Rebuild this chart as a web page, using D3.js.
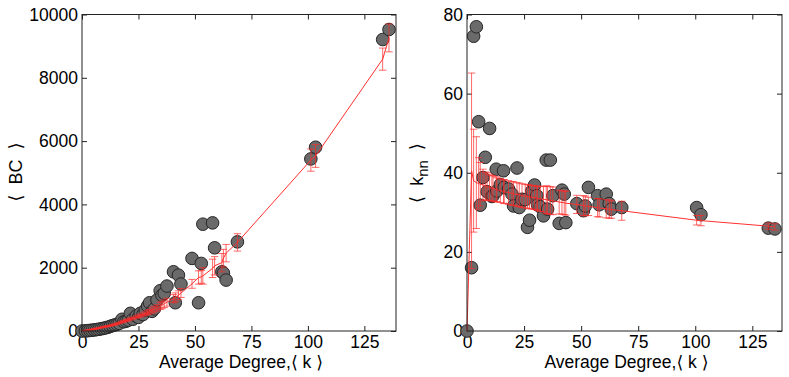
<script src="https://cdnjs.cloudflare.com/ajax/libs/d3/7.8.5/d3.min.js"></script>
<body style="margin:0;background:#fff">
<script>
  // left panel: betweenness centrality vs average degree
  const bcK = [0, 1.5, 2.5, 3.5, 4.5, 5.5, 6.5, 7.5, 8.5, 9.5, 10.5, 11.5, 12.5, 13.5, 14.5, 15.5, 16.5, 17.7, 18.5, 19.5,
    20.5, 21.4, 22.5, 24, 25, 25.8, 27, 28, 29, 29.9, 31, 32, 33.2, 34.6, 35.4, 36.4, 37.6, 40.5, 41.3, 42.7,
    43.8, 48.7, 51.6, 52.8, 53.5, 57.8, 58.7, 61.9, 62.6, 63.8, 68.8, 101.3, 103.4, 133.1, 135.9];
  const bcVal = [0, 5, 10, 18, 25, 35, 45, 55, 70, 85, 100, 120, 145, 170, 190, 215, 240, 370, 290, 310,
    340, 558, 370, 473, 430, 558, 520, 662, 789, 893, 620, 700, 978, 1272, 1130, 1190, 1420, 1871, 893, 1766,
    1483, 2293, 893, 2135, 3375, 3416, 2628, 1871, 1830, 1609, 2817, 5437, 5806, 9210, 9526];
  const bcFit = [0, 15, 25, 35, 50, 65, 80, 95, 110, 125, 140, 155, 170, 190, 210, 230, 255, 285, 305, 330,
    355, 380, 405, 440, 465, 490, 520, 550, 580, 610, 650, 690, 730, 790, 820, 860, 910, 1020, 1065, 1130,
    1200, 1490, 1690, 1710, 1740, 1980, 2060, 2160, 2300, 2460, 2800, 5400, 5530, 8590, 9260];
  const bcErr = [0, 4, 5, 6, 7, 8, 9, 10, 11, 12, 13, 14, 15, 16, 18, 20, 22, 24, 26, 28,
    30, 32, 35, 38, 40, 45, 50, 55, 60, 70, 80, 90, 100, 110, 115, 120, 125, 130, 140, 140,
    140, 140, 210, 200, 260, 290, 290, 290, 280, 275, 275, 350, 360, 350, 440];

  // right panel: average nearest-neighbour degree vs average degree
  const knnK = [0, 2, 2.9, 4.1, 5.1, 5.8, 7, 8, 8.8, 9.9, 10.9, 11.4, 12.8, 13.1, 14.6, 16, 16.3, 18.2, 19.7, 20.4,
    21.9, 22.9, 24.1, 25.5, 26.5, 27.4, 28.4, 29.6, 30.6, 30.9, 32.1, 33.5, 34.7, 35.3, 36.5, 37.6, 40.4, 41.6, 42.6, 43.3,
    48.1, 51, 51.8, 53.2, 57.2, 57.9, 61, 62.3, 63.2, 67.8, 100.6, 102.5, 132, 134.9];
  const knnVal = [0, 16, 74.5, 76.9, 52.9, 31.8, 38.8, 43.9, 35.2, 51.2, 34.0, 34.2, 40.9, 35.4, 37, 40.5, 36.3, 35.9, 34.6, 31.6,
    41.2, 31.2, 33.3, 33.2, 26.2, 28, 35.4, 36.9, 34.2, 31.9, 31.4, 29.1, 43.2, 30.8, 43.2, 34.2, 27.2, 35.6, 34.6, 27.4,
    32.2, 30.4, 31.6, 36.3, 34.2, 31.9, 34.6, 32.2, 30.8, 31.2, 31.2, 29.4, 26, 25.8];
  const knnFit = [0, 40.5, 38, 37.5, 37.3, 37.1, 36.9, 36.7, 36.5, 36.3, 36.1, 36, 35.8, 35.7, 35.5, 35.3, 35.2, 35, 34.8, 34.7,
    34.5, 34.4, 34.2, 34.1, 34, 33.9, 33.8, 33.7, 33.6, 33.5, 33.4, 33.3, 33.2, 33.1, 33, 32.9, 32.6, 32.5, 32.4, 32.3,
    32, 31.7, 31.6, 31.5, 31.2, 31.1, 30.9, 30.8, 30.7, 30.4, 28, 27.9, 26.5, 26.3];
  const knnErr = [0, 24.7, 13, 11.6, 6.5, 5.5, 4, 3.5, 3.5, 3.3, 3.2, 3.2, 3.2, 3, 3, 3, 3, 3, 3, 3,
    3, 3, 3, 3, 3, 3, 3, 3, 3, 3, 3.2, 3.2, 3.5, 3.5, 3.5, 3.5, 3, 3, 3, 3,
    2.3, 2.5, 2.5, 2.3, 2.3, 2.3, 2.3, 2.3, 2.2, 2.4, 1.2, 1.3, 0.8, 0.8];

  const xTicks = [0, 25, 50, 75, 100, 125];
  const bcTicks = [0, 2000, 4000, 6000, 8000, 10000];
  const knnTicks = [0, 20, 40, 60, 80];

  const font = "'Liberation Sans', Arial, 'DejaVu Sans', sans-serif";

  const svg = d3.select("body").append("svg")
    .attr("width", 789)
    .attr("height", 377)
    .style("display", "block");

  svg.append("rect").attr("width", 789).attr("height", 377).attr("fill", "white");

  function panel(o) {
    const x = d3.scaleLinear().domain([0, o.xMax]).range([o.left, o.right]);
    const y = d3.scaleLinear().domain([0, o.yMax]).range([o.bottom, o.top]);
    const g = svg.append("g");

    // ticks, pointing inwards on every side
    const bx = g.append("g").attr("transform", `translate(0,${o.bottom})`)
      .call(d3.axisBottom(x).tickValues(xTicks).tickSizeInner(-5).tickSizeOuter(0).tickPadding(5));
    const tx = g.append("g").attr("transform", `translate(0,${o.top})`)
      .call(d3.axisTop(x).tickValues(xTicks).tickSizeInner(-5).tickSizeOuter(0).tickFormat(""));
    const ly = g.append("g").attr("transform", `translate(${o.left},0)`)
      .call(d3.axisLeft(y).tickValues(o.yTicks).tickSizeInner(-5).tickSizeOuter(0).tickPadding(4).tickFormat(d3.format("d")));
    const ry = g.append("g").attr("transform", `translate(${o.right},0)`)
      .call(d3.axisRight(y).tickValues(o.yTicks).tickSizeInner(-5).tickSizeOuter(0).tickFormat(""));
    [bx, tx, ly, ry].forEach(a => {
      a.select(".domain").remove();
      a.selectAll("line").attr("stroke", "#222");
      a.selectAll("text").attr("font-family", font).attr("font-size", 17.5).attr("fill", "#000");
    });

    // grey markers
    g.append("g").selectAll("circle")
      .data(o.k)
      .join("circle")
      .attr("cx", d => x(d))
      .attr("cy", (d, i) => y(o.val[i]))
      .attr("r", 6.3)
      .attr("fill", "#6a6a6a")
      .attr("stroke", "#262626")
      .attr("stroke-width", 1);

    // red model line with error bars
    const fit = o.k.map((d, i) => [d, o.fit[i], o.err[i]]);
    g.append("path")
      .attr("d", d3.line().x(d => x(d[0])).y(d => y(d[1]))(fit))
      .attr("fill", "none")
      .attr("stroke", "#ff3030")
      .attr("stroke-width", 1);

    const eb = g.append("g").attr("stroke", "#ff2a2a").attr("stroke-width", 1).attr("stroke-opacity", 0.7);
    fit.filter(d => d[2] > 0).forEach(d => {
      const cx = x(d[0]), y0 = y(d[1] - d[2]), y1 = y(d[1] + d[2]);
      eb.append("line").attr("x1", cx).attr("x2", cx).attr("y1", y0).attr("y2", y1);
      eb.append("line").attr("x1", cx - 3.7).attr("x2", cx + 3.7).attr("y1", y0).attr("y2", y0);
      eb.append("line").attr("x1", cx - 3.7).attr("x2", cx + 3.7).attr("y1", y1).attr("y2", y1);
    });

    // frame
    g.append("rect")
      .attr("x", o.left).attr("y", o.top)
      .attr("width", o.right - o.left).attr("height", o.bottom - o.top)
      .attr("fill", "none").attr("stroke", "#222").attr("stroke-width", 1);

    // x title
    g.append("text")
      .attr("x", (o.left + o.right) / 2 + 2)
      .attr("y", 368)
      .attr("text-anchor", "middle")
      .attr("font-family", font)
      .attr("font-size", 17.5)
      .text("Average Degree,\u27E8 k \u27E9");

    return g;
  }

  panel({ left: 82, right: 396, top: 14.5, bottom: 331, xMax: 139, yMax: 10000, yTicks: bcTicks,
    k: bcK, val: bcVal, fit: bcFit, err: bcErr });
  panel({ left: 467, right: 782, top: 14.5, bottom: 331, xMax: 138, yMax: 80, yTicks: knnTicks,
    k: knnK, val: knnVal, fit: knnFit, err: knnErr });

  // y titles (extra gaps round the brackets, as in the original)
  svg.append("text")
    .attr("transform", "translate(22,172) rotate(-90)")
    .attr("text-anchor", "middle")
    .attr("font-family", font)
    .attr("font-size", 18)
    .style("white-space", "pre")
    .text("\u27E8  BC  \u27E9");

  const kt = svg.append("text")
    .attr("transform", "translate(423,173) rotate(-90)")
    .attr("text-anchor", "middle")
    .attr("font-family", font)
    .attr("font-size", 18)
    .style("white-space", "pre");
  kt.append("tspan").text("\u27E8  k");
  kt.append("tspan").attr("dy", 5).attr("font-size", 15).text("nn");
  kt.append("tspan").attr("dy", -5).text("  \u27E9");
</script>
</body>
